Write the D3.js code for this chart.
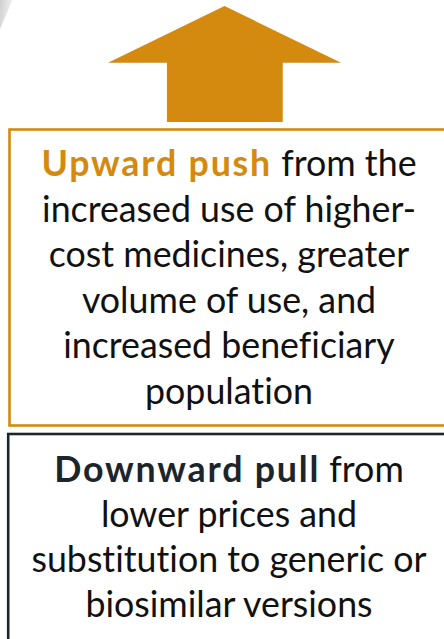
<!DOCTYPE html>
<html><head><meta charset="utf-8">
<script src="https://cdn.jsdelivr.net/npm/d3@7/dist/d3.min.js"></script>
<style>html,body{margin:0;padding:0;background:#fff;overflow:hidden} text{font-variant-ligatures:none;font-feature-settings:"liga" 0}</style>
</head><body><svg id="c" width="444" height="639"></svg>
<script>
// ---- content ----
const upBold = "Upward push";
const upLines = [" from the", "increased use of higher-", "cost medicines, greater", "volume of use, and", "increased beneficiary", "population"];
const downBold = "Downward pull";
const downLines = [" from", "lower prices and", "substitution to generic or", "biosimilar versions"];
const colors = { up: "#d4890f", down: "#1c252b", text: "#111111" };

const svg = d3.select("#c");
const FONT = "Lato, 'Open Sans', sans-serif";

// gradient for corner decoration
const defs = svg.append("defs");
const g = defs.append("linearGradient").attr("id","gr").attr("x1","0").attr("y1","0").attr("x2","1").attr("y2","0.3");
g.append("stop").attr("offset","0").attr("stop-color","#cfcfcf");
g.append("stop").attr("offset","1").attr("stop-color","#f2f2f2");
svg.append("path").attr("d","M0,0 L12.5,0 L0,29 Z").attr("fill","url(#gr)");

// Arrow
const ax = d3.scaleLinear().domain([0,1]).range([108,341]);
const ay = d3.scaleLinear().domain([0,1]).range([6,122]);
const headBase = 0.49, shaftL = 0.253, shaftR = 0.75;
const arrowPts = [[0.5,0],[1,headBase],[shaftR,headBase],[shaftR,1],[shaftL,1],[shaftL,headBase],[0,headBase]];
svg.append("path")
  .attr("d", d3.line().x(d=>ax(d[0])).y(d=>ay(d[1]))(arrowPts) + "Z")
  .attr("fill", colors.up);

// Boxes
svg.append("rect").attr("x",9.5).attr("y",129.5).attr("width",460).attr("height",296)
  .attr("fill","none").attr("stroke",colors.up).attr("stroke-width",2.6);
svg.append("rect").attr("x",8.2).attr("y",434).attr("width",460).attr("height",260)
  .attr("fill","none").attr("stroke",colors.down).attr("stroke-width",2.6);

// font-size fitting
const probe = svg.append("text").attr("font-family",FONT).attr("font-size",100).text("increased use of higher-");
const w100 = probe.node().getComputedTextLength();
probe.remove();
const fs = 100 * 374 / w100;

const cx = 229;
function block(bold, boldColor, lines, y0, dy) {
  lines.forEach((ln, i) => {
    const t = svg.append("text").attr("x", cx).attr("y", y0 + i*dy)
      .attr("text-anchor","middle").attr("font-family",FONT).attr("font-size",fs).attr("fill",colors.text);
    if (i === 0) {
      t.append("tspan").attr("font-weight","bold").attr("fill",boldColor).attr("letter-spacing",1.8).text(bold);
      t.append("tspan").text(ln);
    } else t.text(ln);
  });
}
block(upBold, colors.up, upLines, 176, 45.6);
block(downBold, colors.down, downLines, 482, 45);
</script></body></html>
